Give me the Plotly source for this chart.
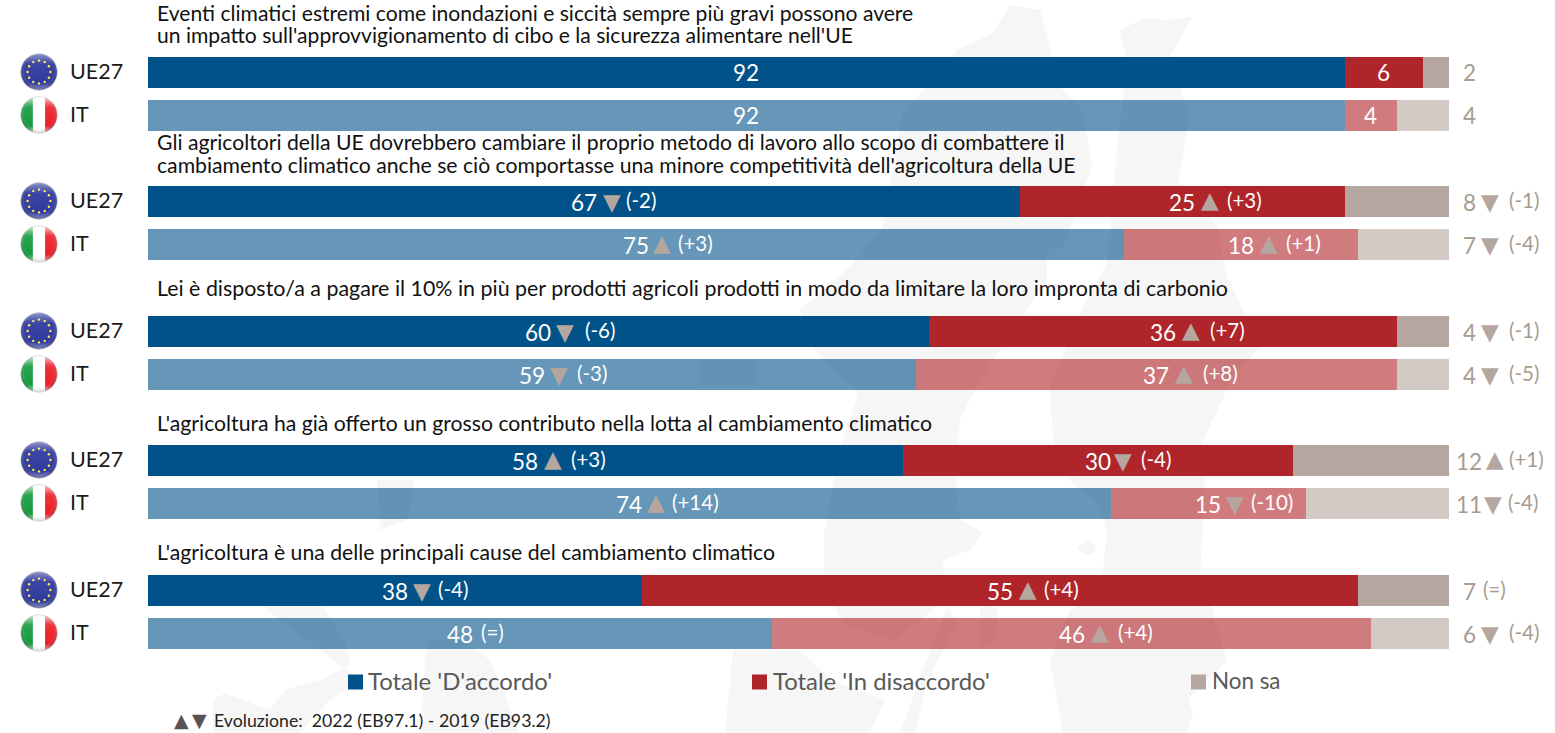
import base64
import math
import plotly.graph_objects as go

# ---------- data ----------
questions = [
    ["Eventi climatici estremi come inondazioni e siccità sempre più gravi possono avere",
     "un impatto sull'approvvigionamento di cibo e la sicurezza alimentare nell'UE"],
    ["Gli agricoltori della UE dovrebbero cambiare il proprio metodo di lavoro allo scopo di combattere il",
     "cambiamento climatico anche se ciò comportasse una minore competitività dell'agricoltura della UE"],
    ["Lei è disposto/a a pagare il 10% in più per prodotti agricoli prodotti in modo da limitare la loro impronta di carbonio"],
    ["L'agricoltura ha già offerto un grosso contributo nella lotta al cambiamento climatico"],
    ["L'agricoltura è una delle principali cause del cambiamento climatico"],
]
regions = ["UE27", "IT"] * 5
agree = [92, 92, 67, 75, 60, 59, 58, 74, 38, 48]
disagree = [6, 4, 25, 18, 36, 37, 30, 15, 55, 46]
dontknow = [2, 4, 8, 7, 4, 4, 12, 11, 7, 6]
agree_delta = [None, None, "(-2)", "(+3)", "(-6)", "(-3)", "(+3)", "(+14)", "(-4)", "(=)"]
disagree_delta = [None, None, "(+3)", "(+1)", "(+7)", "(+8)", "(-4)", "(-10)", "(+4)", "(+4)"]
dontknow_delta = [None, None, "(-1)", "(-4)", "(-1)", "(-5)", "(+1)", "(-4)", "(=)", "(-4)"]
series_names = ["Totale 'D'accordo'", "Totale 'In disaccordo'", "Non sa"]
footnote = "Evoluzione:  2022 (EB97.1) - 2019 (EB93.2)"

# ---------- layout helpers ----------
W, H = 1555, 733
X0, SCALE = 148, 13.01
FONT = "Lato"
BLUE, RED, GREY = "#005288", "#b0252a", "#b5a79f"
TXT_GREY = "#a89b90"
row_y = [72, 115, 201, 244, 331, 374, 460, 503, 590, 633]
question_y = [[12, 34.5], [141.5, 164.5], [287.5], [422.5], [551.5]]
question_size = [21.1, 21.2, 21.4, 21.2, 21.2]
row_op = [1, 0.6] * 5


def px(p):
    return (p - X0) / SCALE


fig = go.Figure()
for vals, col, nm in zip((agree, disagree, dontknow), (BLUE, RED, GREY), series_names):
    fig.add_trace(go.Bar(x=vals, y=row_y, orientation="h", width=31, name=nm,
                         marker=dict(color=col, opacity=row_op, line=dict(width=0)),
                         hoverinfo="skip", showlegend=False))
ann = []


def text(x, y, s, size, color, anchor="center", family=FONT):
    ann.append(dict(x=x, y=y, text=s, showarrow=False, xanchor=anchor, yanchor="middle",
                    font=dict(family=family, size=size, color=color), xref="x", yref="y"))


def delta(center, y, d, color, tri_dx, txt_dx):
    if d is None:
        return
    text(center + px(X0 + txt_dx), y - 1.5, d, 20.5, color)
    if d != "(=)":
        up = "+" in d
        text(center + px(X0 + tri_dx), y + (-1 if up else 1), "▲" if up else "▼", 23, GREY,
             family="DejaVu Sans")


# pixel offsets of (triangle, delta) from the number centre
agree_off = [None, None, (28, 57), (26, 60), (27, 62), (27, 60), (28, 63), (27, 66), (27, 58), (0, 32)]
disagree_off = [None, None, (28, 62), (28, 63), (28, 65), (28, 64), (25, 58), (27, 64), (28, 61), (28, 64)]
dk_off = [None, None, (21, 55), (21, 55), (21, 55), (21, 55), (26, 57), (24, 54), (0, 25), (21, 55)]

for i, y in enumerate(row_y):
    a, d, n = agree[i], disagree[i], dontknow[i]
    ca, cd = a / 2, a + d / 2
    ny = y + (0 if i < 2 else 1)
    text(ca, ny, str(a), 22.5, "white")
    text(cd, ny, str(d), 22.5, "white")
    cn = px(1469)
    text(cn, ny, str(n), 22.5, TXT_GREY)
    if agree_off[i]:
        delta(ca, y, agree_delta[i], "white", *agree_off[i])
        delta(cd, y, disagree_delta[i], "white", *disagree_off[i])
        delta(cn, y, dontknow_delta[i], TXT_GREY, *dk_off[i])
    text(px(68), y - 1.5, regions[i], 21.5, "#1a1a1a", "left")

for lines, ys, size in zip(questions, question_y, question_size):
    for s, y in zip(lines, ys):
        text(px(155), y, s, size, "#111111", "left")

# legend
leg_sq = [355.5, 759.5, 1198.5]
leg_tx = [366, 771, 1210]
leg_size = [23.9, 23.9, 22.4]
fig.add_trace(go.Scatter(x=[px(v) for v in leg_sq], y=[682] * 3, mode="markers", hoverinfo="skip",
                         showlegend=False,
                         marker=dict(symbol="square", size=15, color=[BLUE, RED, GREY], line=dict(width=0))))
for xp, s, size in zip(leg_tx, series_names, leg_size):
    text(px(xp), 680.5, s, size, "#595959", "left")
text(px(181), 720, "▲", 19, "#5b5155", family="DejaVu Sans")
text(px(199), 720, "▼", 19, "#5b5155", family="DejaVu Sans")
text(px(212), 720, footnote, 17.7, "#222222", "left")

# faint Europe watermark behind the bars
land = [
    [(1010, 5), (993, 33), (957, 50), (917, 97), (903, 110), (883, 227), (850, 267), (800, 310), (815, 350),
     (858, 393), (840, 450), (824, 533), (824, 590), (845, 625), (895, 640), (945, 600), (943, 560), (970, 550),
     (983, 533), (960, 520), (955, 470), (960, 420), (973, 393), (993, 360), (1047, 280), (1047, 260),
     (1063, 247), (1092, 167), (1083, 110), (1060, 87), (1050, 50), (1040, 10)],
    [(1120, 30), (1145, 18), (1168, 20), (1192, 17), (1170, 57), (1190, 117), (1178, 180), (1217, 227),
     (1227, 277), (1243, 310), (1260, 347), (1233, 377), (1203, 440), (1205, 500), (1203, 523), (1200, 577),
     (1213, 613), (1227, 660), (1188, 700), (1193, 713), (1187, 733), (1063, 733), (1050, 660), (1070, 610),
     (1105, 590), (1103, 570), (1107, 533), (1100, 505), (1070, 480), (1053, 440), (1050, 387), (1083, 307),
     (1107, 263), (1115, 170), (1127, 60)],
    [(1077, 548), (1087, 540), (1096, 546), (1093, 555), (1085, 555)],
    [(980, 607), (997, 607), (997, 640), (980, 650)],
    [(263, 607), (323, 607), (345, 640), (350, 665), (320, 680), (285, 690), (270, 710), (225, 693), (213, 700),
     (213, 733), (300, 733), (330, 700), (360, 680)],
    [(377, 480), (415, 480), (407, 520), (380, 530)],
    [(427, 640), (463, 640), (490, 660), (520, 733), (420, 733)],
    [(733, 650), (800, 650), (830, 680), (885, 700), (870, 733), (725, 733)],
    [(947, 607), (957, 623), (933, 670), (925, 690), (915, 733), (900, 733), (930, 650)],
    [(700, 360), (755, 360), (755, 385), (700, 385)],
]
shapes = []
for poly in land:
    path = "M " + " L ".join(f"{px(a):.3f},{b}" for a, b in poly) + " Z"
    shapes.append(dict(type="path", path=path, xref="x", yref="y", layer="below",
                       fillcolor="#f6f6f6", line=dict(width=0)))

# round flag icons
stars = "".join(
    f'<circle cx="{50 + 30 * math.cos(k * math.pi / 6):.1f}" '
    f'cy="{50 + 30 * math.sin(k * math.pi / 6):.1f}" r="3.2" fill="#ffe94a"/>'
    for k in range(12))
DEFS = ('<defs><radialGradient id="s" cx="50%" cy="45%" r="55%"><stop offset="0.72" stop-color="#fff" stop-opacity="0"/>'
        '<stop offset="1" stop-color="#000" stop-opacity="0.35"/></radialGradient>'
        '<linearGradient id="g" x1="0" y1="0" x2="0" y2="1"><stop offset="0" stop-color="#fff" stop-opacity="0.75"/>'
        '<stop offset="0.28" stop-color="#fff" stop-opacity="0.1"/><stop offset="0.8" stop-color="#fff" stop-opacity="0"/>'
        '<stop offset="1" stop-color="#fff" stop-opacity="0.6"/></linearGradient>'
        '<clipPath id="c"><circle cx="50" cy="50" r="48"/></clipPath></defs>')
eu = (f'<svg xmlns="http://www.w3.org/2000/svg" viewBox="0 0 100 100">{DEFS}'
      f'<circle cx="50" cy="50" r="48" fill="#2f3a9e"/>{stars}'
      '<circle cx="50" cy="50" r="48" fill="url(#s)"/><circle cx="50" cy="50" r="48" fill="url(#g)" opacity="0.6"/>'
      '<circle cx="50" cy="50" r="48" fill="none" stroke="#c8c8c8" stroke-width="1.5"/></svg>')
it = (f'<svg xmlns="http://www.w3.org/2000/svg" viewBox="0 0 100 100">{DEFS}'
      '<g clip-path="url(#c)"><rect width="34" height="100" fill="#159a3c"/><rect x="34" width="32" height="100" fill="#fff"/>'
      '<rect x="66" width="34" height="100" fill="#ee1c25"/></g>'
      '<circle cx="50" cy="50" r="48" fill="url(#s)"/><circle cx="50" cy="50" r="48" fill="url(#g)"/>'
      '<circle cx="50" cy="50" r="48" fill="none" stroke="#c8c8c8" stroke-width="1.5"/></svg>')


def uri(svg):
    return "data:image/svg+xml;base64," + base64.b64encode(svg.encode()).decode()


images = []
for i, y in enumerate(row_y):
    images.append(dict(source=uri(eu if i % 2 == 0 else it), xref="x", yref="y", x=px(20), y=y - 19,
                       sizex=38 / SCALE, sizey=38, xanchor="left", yanchor="top", layer="above"))

fig.update_layout(
    width=W, height=H, margin=dict(l=0, r=0, t=0, b=0), barmode="stack", bargap=0,
    paper_bgcolor="white", plot_bgcolor="white", showlegend=False,
    font=dict(family=FONT),
    xaxis=dict(range=[px(0), px(W)], visible=False, fixedrange=True),
    yaxis=dict(range=[H, 0], visible=False, fixedrange=True),
    annotations=ann, shapes=shapes, images=images,
)
fig.write_html("out.html", config={"displayModeBar": False},
               post_script="document.body.style.margin='0';document.body.style.overflow='hidden';")
